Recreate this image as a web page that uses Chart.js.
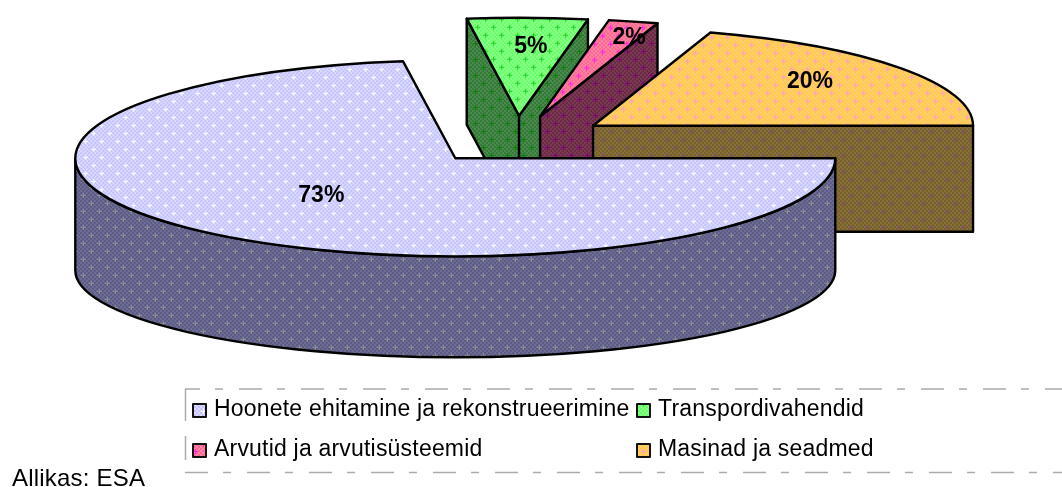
<!DOCTYPE html>
<html><head><meta charset="utf-8">
<style>html,body{margin:0;padding:0;background:#fff}canvas{display:block}</style>
<script src="https://cdn.jsdelivr.net/npm/chart.js@4"></script>
</head><body>
<canvas id="c" width="1062" height="487"></canvas>
<script>
const categories = ["Hoonete ehitamine ja rekonstrueerimine","Transpordivahendid","Arvutid ja arvutisüsteemid","Masinad ja seadmed"];
const shares = [72.8, 5.1, 2.1, 20.0];
const sourceText = "Allikas: ESA";
const topTones  = [["#C2C2FF","#DCDCFF","#FFFFFF"],["#66FF66","#8CFF8C","#22CC22"],["#FF5FAA","#FF8C8C","#FF22EE"],["#FFC84E","#FFD070","#FF9FCC"]];
const sideTones = [["#5C5C84","#6C6C94","#8E8E8E"],["#357A38","#4A8A4C","#0A800A"],["#6A2A48","#7A3A50","#800080"],["#78602A","#86703C","#80506A"]];
const labelReach = [0.508, 0.724, 0.849, 0.739];
const labelTurn = [2.9, 1.2, 1.8, -3.4];

const SQUASH = 0.258, EXPLODE = 94, DEPTH = 106, RADIUS = 380;
const RIM_DROP = 112, RIM_FOOT = 87;

function tile(t){
  const c=document.createElement('canvas');c.width=c.height=16;const g=c.getContext('2d');
  for(let y=0;y<16;y+=2)for(let x=0;x<16;x+=2){g.fillStyle=((x+y)/2)%2?t[1]:t[0];g.fillRect(x,y,2,2);}
  g.fillStyle=t[2];
  for(const [px,py] of [[3,3],[11,11]]){g.fillRect(px-2,py,5,1);g.fillRect(px,py-2,1,5);}
  return c;
}
const ctx0=document.getElementById('c').getContext('2d');
const topPat=topTones.map(t=>ctx0.createPattern(tile(t),'repeat'));
const flatPat=topTones.map(t=>ctx0.createPattern(tile(t),'repeat'));
const sidePat=sideTones.map(t=>ctx0.createPattern(tile(t),'repeat'));
topPat.forEach(p=>p.setTransform(new DOMMatrix().scale(1,1/SQUASH)));

const pie3d={id:'pie3d',
  beforeDatasetsDraw(chart){
    const ctx=chart.ctx,arcs=chart.getDatasetMeta(0).data;
    const order=arcs.map((a,i)=>i).sort((p,q)=>{
      const h=a=>(a.startAngle+a.endAngle)/2;return Math.sin(h(arcs[p]))-Math.sin(h(arcs[q]));});
    ctx.lineJoin='round';
    for(const i of order){
      const a=arcs[i],s=a.startAngle,e=a.endAngle,h=(s+e)/2,R=a.outerRadius;
      const ex=Math.cos(h)*EXPLODE,ey=Math.sin(h)*EXPLODE;
      const ax=a.x+ex,ay=a.y+ey*SQUASH,Ry=R*SQUASH;
      const rim=t=>[ax+R*Math.cos(t),ay+Ry*Math.sin(t)];
      ctx.lineWidth=2.4;ctx.strokeStyle='#000';ctx.fillStyle=sidePat[i];
      const wall=t=>{const [x,y]=rim(t);ctx.beginPath();ctx.moveTo(ax,ay);ctx.lineTo(x,y);ctx.lineTo(x,y+DEPTH);ctx.lineTo(ax,ay+DEPTH);ctx.closePath();ctx.fill();ctx.stroke();};
      if(Math.cos(s)<0)wall(s);
      if(Math.cos(e)>0)wall(e);
      const f0=Math.max(s,0),f1=Math.min(e,Math.PI);
      if(f1>f0){ctx.beginPath();ctx.ellipse(ax,ay,R,Ry,0,f0,f1);ctx.ellipse(ax,ay+RIM_DROP,R,RIM_FOOT,0,f1,f0,true);ctx.closePath();ctx.fill();ctx.stroke();}
      // top face: the library's own arc element, flattened and moved out
      ctx.save();
      ctx.translate(a.x,a.y);ctx.scale(1,SQUASH);ctx.translate(-a.x,-a.y);ctx.translate(ex,ey);
      a.draw(ctx);
      ctx.restore();
      ctx.beginPath();ctx.moveTo(ax,ay);ctx.ellipse(ax,ay,R,Ry,0,s,e);ctx.closePath();ctx.stroke();
    }
    // percentage labels
    ctx.fillStyle='#000';ctx.font='bold 23px "Liberation Sans"';ctx.textAlign='center';ctx.textBaseline='middle';
    const total=shares.reduce((p,q)=>p+q,0);
    arcs.forEach((a,i)=>{
      const h=(a.startAngle+a.endAngle)/2,r=a.outerRadius*labelReach[i],d=h+labelTurn[i]*Math.PI/180;
      const x=a.x+Math.cos(h)*EXPLODE+Math.cos(d)*r,y=a.y+(Math.sin(h)*EXPLODE+Math.sin(d)*r)*SQUASH;
      ctx.fillText(Math.round(shares[i]/total*100)+'%',x,y+1.5);
    });
    return false;
  },
  afterDraw(chart){
    const ctx=chart.ctx;ctx.save();
    ctx.strokeStyle='#ABABAB';ctx.lineWidth=1.5;
    ctx.setLineDash([23,15,8,16]);
    ctx.lineDashOffset=8;ctx.beginPath();ctx.moveTo(185,389);ctx.lineTo(1062,389);ctx.stroke();
    ctx.lineDashOffset=0;ctx.beginPath();ctx.moveTo(185,472.5);ctx.lineTo(1062,472.5);ctx.stroke();
    ctx.setLineDash([]);ctx.beginPath();ctx.moveTo(185.5,389);ctx.lineTo(185.5,421);ctx.moveTo(185.5,436);ctx.lineTo(185.5,460);ctx.stroke();
    ctx.font='23px "Liberation Sans"';ctx.textAlign='left';ctx.textBaseline='alphabetic';
    ctx.letterSpacing='0.2px';
    const cols=[193,637],rows=[404,444];
    categories.forEach((t,i)=>{
      const x=cols[i%2],y=rows[i>>1];
      ctx.fillStyle=flatPat[i];ctx.fillRect(x,y,13,13);
      ctx.strokeStyle='#111';ctx.lineWidth=2;ctx.strokeRect(x,y,13,13);
      ctx.fillStyle='#000';ctx.fillText(t,x+21,y+12);
    });
    ctx.font='24px "Liberation Sans"';
    ctx.fillText(sourceText,12,486);
    ctx.restore();
  }
};
new Chart(document.getElementById('c'),{
  type:'pie',
  data:{labels:categories,datasets:[{data:shares,backgroundColor:topPat,borderWidth:0}]},
  options:{responsive:false,animation:false,rotation:90,radius:RADIUS,
    layout:{padding:{left:0,top:0,right:28,bottom:207}},
    plugins:{legend:{display:false},tooltip:{enabled:false},title:{display:false}}},
  plugins:[pie3d]
});
</script>
</body></html>
